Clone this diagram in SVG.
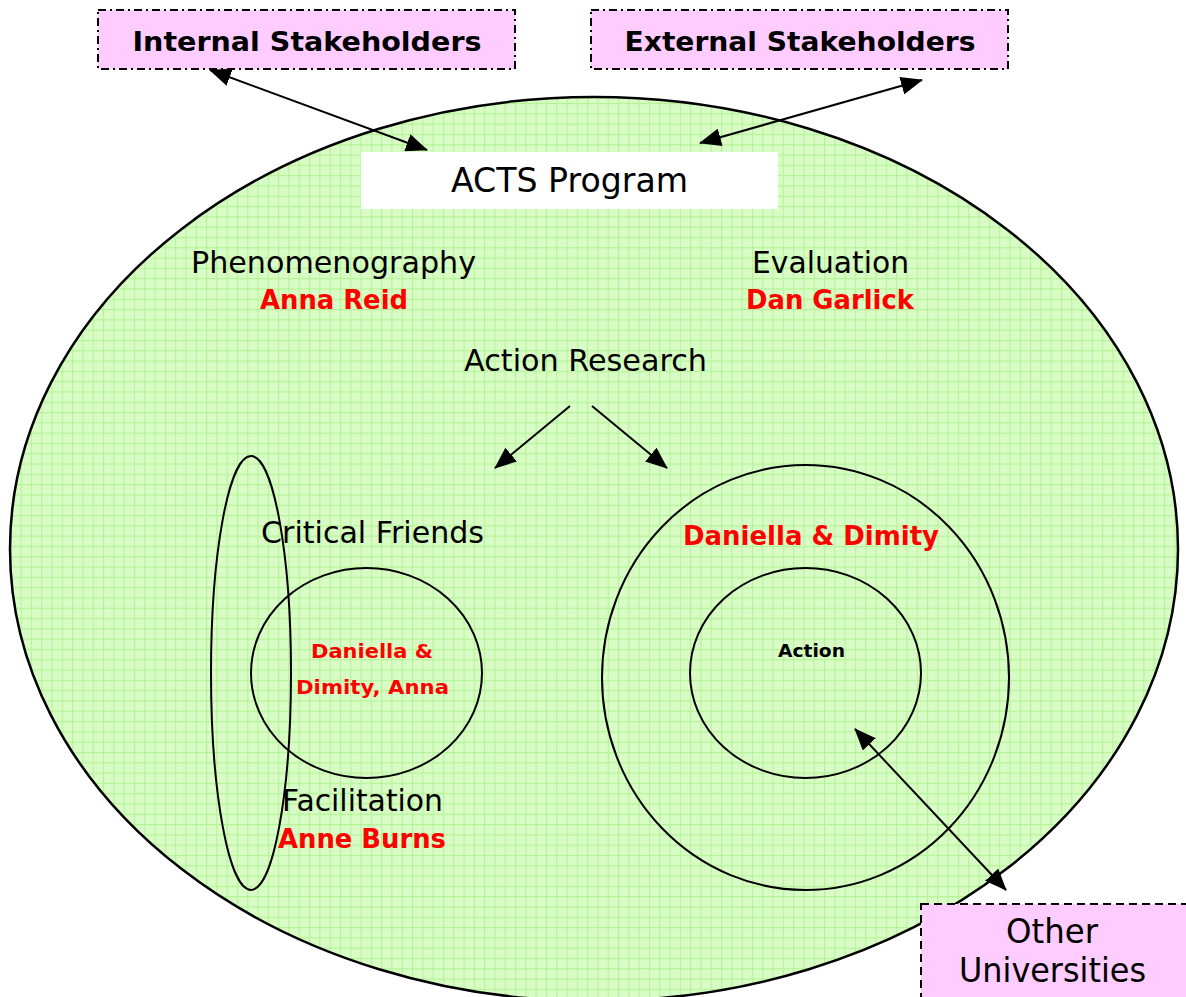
<svg xmlns="http://www.w3.org/2000/svg" width="1186" height="997" viewBox="0 0 1186 997">
<style>
.t{font-family:"DejaVu Sans","Liberation Sans",sans-serif;fill:#000}
.b{font-weight:bold}
.r{fill:#ff0000;font-weight:bold}
.ln{stroke:#000;stroke-width:2;fill:none}
.box{fill:#ffccff;stroke:#000;stroke-width:2;stroke-dasharray:8 4 2 4}
.box2{fill:#ffccff;stroke:#000;stroke-width:2;stroke-dasharray:8 5}
.conn{stroke:#000;stroke-width:2;fill:none;marker-end:url(#ah);marker-start:url(#ahs)}
.one{stroke:#000;stroke-width:2;fill:none;marker-end:url(#ah)}
</style>
<defs>
<pattern id="grid" x="0" y="0" width="10.3" height="10.3" patternUnits="userSpaceOnUse">
<rect width="10.3" height="10.3" fill="#d9fcc6"/>
<path d="M0 0.5H10.3M0.5 0V10.3" stroke="#b3f496" stroke-width="1.2"/>
</pattern>
<marker id="ah" viewBox="0 0 22 18" refX="21" refY="9" markerWidth="22" markerHeight="18" markerUnits="userSpaceOnUse" orient="auto"><path d="M0 0L22 9L0 18z" fill="#000"/></marker>
<marker id="ahs" viewBox="0 0 22 18" refX="1" refY="9" markerWidth="22" markerHeight="18" markerUnits="userSpaceOnUse" orient="auto"><path d="M22 0L0 9L22 18z" fill="#000"/></marker>
</defs>
<rect width="1186" height="997" fill="#fff"/>
<g id="program">
<ellipse cx="594" cy="549" rx="584" ry="452" fill="url(#grid)" stroke="#000" stroke-width="2.5"/>
</g>
<g id="acts">
<rect x="361" y="152" width="417" height="57" fill="#fff"/>
<text class="t" x="569.5" y="192" font-size="34" text-anchor="middle" textLength="237" lengthAdjust="spacingAndGlyphs">ACTS Program</text>
</g>
<g id="internal">
<rect class="box" x="98" y="10" width="417" height="59"/>
<text class="t b" x="307" y="51" font-size="27" text-anchor="middle" textLength="349" lengthAdjust="spacingAndGlyphs">Internal Stakeholders</text>
</g>
<g id="external">
<rect class="box" x="591" y="10" width="417" height="59"/>
<text class="t b" x="800" y="51" font-size="27" text-anchor="middle" textLength="351" lengthAdjust="spacingAndGlyphs">External Stakeholders</text>
</g>
<g id="phenomenography">
<text class="t" x="333.5" y="273" font-size="31" text-anchor="middle" textLength="285" lengthAdjust="spacingAndGlyphs">Phenomenography</text>
<text class="t r" x="334" y="309" font-size="26" text-anchor="middle" textLength="148" lengthAdjust="spacingAndGlyphs">Anna Reid</text>
</g>
<g id="evaluation">
<text class="t" x="830.5" y="273" font-size="31" text-anchor="middle" textLength="157" lengthAdjust="spacingAndGlyphs">Evaluation</text>
<text class="t r" x="830" y="309" font-size="26" text-anchor="middle" textLength="168" lengthAdjust="spacingAndGlyphs">Dan Garlick</text>
</g>
<g id="action-research">
<text class="t" x="585.5" y="371" font-size="31" text-anchor="middle" textLength="243" lengthAdjust="spacingAndGlyphs">Action Research</text>
</g>
<g id="critical-friends">
<ellipse class="ln" cx="251" cy="673" rx="40" ry="217"/>
<ellipse class="ln" cx="366.5" cy="673" rx="115.5" ry="105"/>
<text class="t" x="372.5" y="543" font-size="31" text-anchor="middle" textLength="223" lengthAdjust="spacingAndGlyphs">Critical Friends</text>
<text class="t r" x="372" y="658" font-size="20" text-anchor="middle" textLength="122" lengthAdjust="spacingAndGlyphs">Daniella &amp;</text>
<text class="t r" x="372.5" y="694" font-size="20" text-anchor="middle" textLength="153" lengthAdjust="spacingAndGlyphs">Dimity, Anna</text>
<text class="t" x="362.5" y="811" font-size="31" text-anchor="middle" textLength="161" lengthAdjust="spacingAndGlyphs">Facilitation</text>
<text class="t r" x="362" y="848" font-size="26" text-anchor="middle" textLength="168" lengthAdjust="spacingAndGlyphs">Anne Burns</text>
</g>
<g id="daniella-dimity">
<ellipse class="ln" cx="805.5" cy="677.5" rx="203.5" ry="212.5"/>
<text class="t r" x="811" y="545" font-size="26" text-anchor="middle" textLength="256" lengthAdjust="spacingAndGlyphs">Daniella &amp; Dimity</text>
</g>
<g id="action">
<ellipse class="ln" cx="805.5" cy="673" rx="115.5" ry="105"/>
<text class="t b" x="811.5" y="657" font-size="17" text-anchor="middle" textLength="67" lengthAdjust="spacingAndGlyphs">Action</text>
</g>
<g id="other-universities">
<rect class="box2" x="921" y="904" width="275" height="105"/>
<text class="t" x="1052" y="943" font-size="34" text-anchor="middle" textLength="92" lengthAdjust="spacingAndGlyphs">Other</text>
<text class="t" x="1052.5" y="982" font-size="34" text-anchor="middle" textLength="187" lengthAdjust="spacingAndGlyphs">Universities</text>
</g>
<g id="connectors">
<line class="conn" x1="210" y1="70" x2="427" y2="150"/>
<line class="conn" x1="922" y1="80" x2="700" y2="143"/>
<line class="one" x1="570" y1="406" x2="495" y2="468"/>
<line class="one" x1="592" y1="406" x2="667" y2="468"/>
<line class="conn" x1="855" y1="729" x2="1006" y2="890"/>
</g>
</svg>
